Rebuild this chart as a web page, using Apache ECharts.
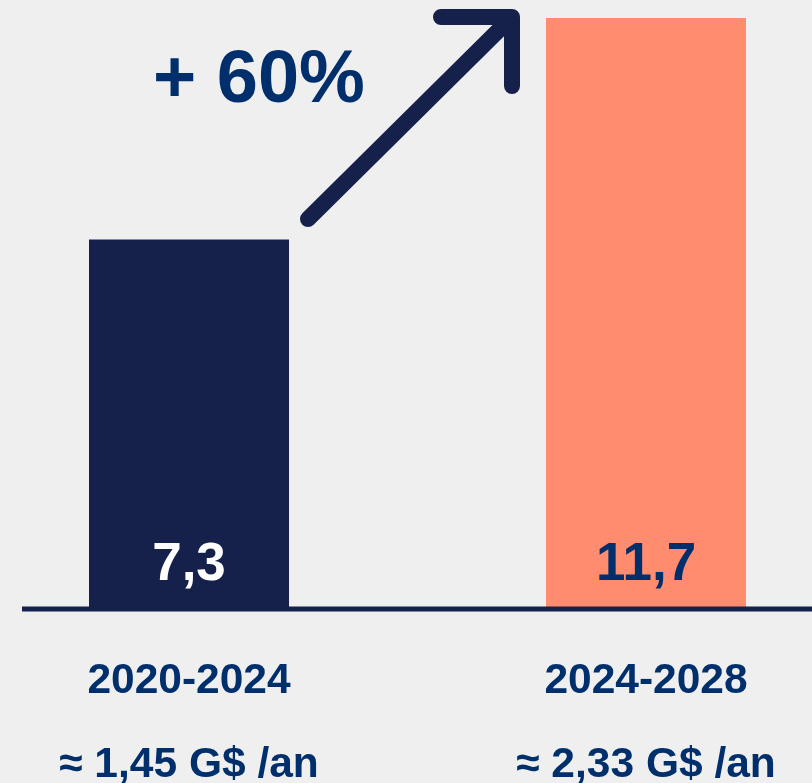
<!DOCTYPE html>
<html>
<head>
<meta charset="utf-8">
<script src="https://cdn.jsdelivr.net/npm/echarts@6/dist/echarts.min.js"></script>
<style>
  html, body { margin: 0; padding: 0; background: #efefef; }
  #chart { width: 812px; height: 783px; }
</style>
</head>
<body>
<div id="chart"></div>
<script>
var periods = ['2020-2024', '2024-2028'];
var perYear = ['≈ 1,45 G$ /an', '≈ 2,33 G$ /an'];
var totals = [7.3, 11.7];
var growth = '+ 60%';

var navy = '#15214b',
  textBlue = '#002f6c',
  salmon = '#ff8c6e';

function initChart(dom) {
  var myChart = echarts.init(dom),
    option = {
      backgroundColor: '#efefef',
      animation: false,
      grid: {
        left: 189,
        right: 166,
        top: 3,
        bottom: 176,
        outerBoundsMode: 'none'
      },
      xAxis: {
        type: 'category',
        boundaryGap: false,
        data: periods,
        axisLine: { show: false },
        axisTick: { show: false },
        axisLabel: {
          margin: 32,
          formatter: function (value, index) {
            return '{a|' + value + '}\n{b|' + perYear[index] + '}';
          },
          rich: {
            a: {
              fontFamily: 'Liberation Sans, Arial, sans-serif',
              fontWeight: 'bold',
              fontSize: 42.5,
              lineHeight: 84,
              color: textBlue
            },
            b: {
              fontFamily: 'Liberation Sans, Arial, sans-serif',
              fontWeight: 'bold',
              fontSize: 42.5,
              lineHeight: 84,
              color: textBlue
            }
          }
        }
      },
      yAxis: {
        type: 'value',
        min: 0,
        max: 12,
        show: false,
        splitLine: { show: false }
      },
      series: [{
        type: 'bar',
        clip: false,
        barWidth: 200,
        data: totals.map(function (v, i) {
          return {
            value: v,
            itemStyle: { color: i === 0 ? navy : salmon },
            label: { color: i === 0 ? '#ffffff' : textBlue }
          };
        }),
        label: {
          show: true,
          position: 'insideBottom',
          distance: 15,
          fontFamily: 'Liberation Sans, Arial, sans-serif',
          fontWeight: 'bold',
          fontSize: 53,
          formatter: function (p) {
            return String(p.value).replace('.', ',');
          }
        }
      }],
      graphic: [
        {
          type: 'rect',
          shape: { x: 22, y: 606.5, width: 790, height: 5 },
          style: { fill: navy },
          z: 10
        },
        {
          type: 'polyline',
          shape: { points: [[308, 219], [510, 19]] },
          style: { stroke: navy, lineWidth: 16, lineCap: 'round', fill: null },
          z: 10
        },
        {
          type: 'polyline',
          shape: { points: [[441, 17], [512, 17], [512, 86]] },
          style: { stroke: navy, lineWidth: 16, lineCap: 'round', lineJoin: 'round', fill: null },
          z: 10
        },
        {
          type: 'text',
          left: 153,
          top: 45,
          style: {
            text: growth,
            fontFamily: 'Liberation Sans, Arial, sans-serif',
            fontWeight: 'bold',
            fontSize: 74,
            fill: textBlue
          }
        }
      ]
    };
  myChart.setOption(option, true);
  window.addEventListener('resize', function () {
    myChart.resize();
  });
}

initChart(document.getElementById('chart'));
</script>
</body>
</html>
